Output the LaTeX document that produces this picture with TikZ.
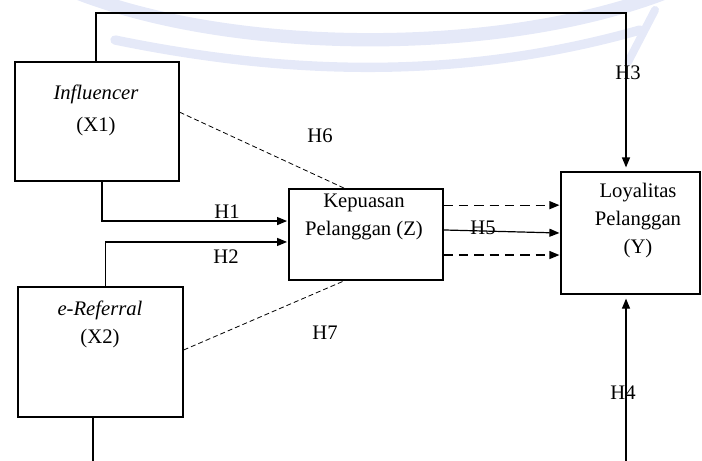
\documentclass[tikz,border=0pt]{standalone}
\usepackage{fontspec}
\setmainfont{Liberation Serif}
\usetikzlibrary{arrows.meta,positioning}

\tikzset{every picture/.style={line width=0.9pt}}
\tikzset{
  varbox/.style={draw, rectangle, inner sep=0pt},
  conn/.style={-{Triangle[length=7.5pt,width=6pt]}},
  dashconn/.style={conn, line width=0.9pt, dash pattern=on 7pt off 4.5pt},
  dashlink/.style={line width=0.6pt, dash pattern=on 3.75pt off 2.25pt},
  hlabel/.style={inner sep=0pt},
  wmark/.style={draw={rgb,255:red,229;green,233;blue,248}, line cap=round}
}

\begin{document}
\begin{tikzpicture}[x=0.75pt,y=0.75pt,yscale=-1,xscale=1,
  font=\fontsize{15.5}{21}\selectfont]
	\path[use as bounding box] (0,0) rectangle (702,460);

	%Watermark arcs behind the model
	\draw[wmark, line width=10pt] (80,-6) .. controls (240,55) and (500,55) .. (662,-6);
	\draw[wmark, line width=7pt] (115,40) .. controls (300,78) and (470,78) .. (640,30);
	\draw[wmark, line width=6pt] (655,10) -- (628,62);

	%Shape: Rectangle [Influencer]
	\node[varbox, minimum width=123pt, minimum height=89.25pt] (x1) at (97,121.5) {};
	% Text Node
	\node[align=center] (x1txt) at (96,110.5) {\textit{Influencer}\\[3.5pt](X1)};

	%Shape: Rectangle [e-Referral]
	\node[varbox, minimum width=123.75pt, minimum height=97.5pt] (x2) at (100.5,352) {};
	% Text Node
	\node[align=center] (x2txt) at (100,324) {\textit{e-Referral}\\(X2)};

	%Shape: Rectangle [Kepuasan]
	\node[varbox, minimum width=115.5pt, minimum height=68.25pt] (kp) at (366,234.5) {};
	% Text Node
	\node[align=center] (kptxt) at (364,217) {Kepuasan\\Pelanggan (Z)};

	%Shape: Rectangle [Loyalitas]
	\node[varbox, minimum width=104.25pt, minimum height=91.5pt] (ly) at (630.5,233) {};
	% Text Node
	\node[align=center] (lytxt) at (638,221) {Loyalitas\\Pelanggan\\(Y)};

	\coordinate (h3top) at (626,13);
	\coordinate (h4foot) at (626,462);
	\coordinate (x2foot) at (93,462);

	%Straight Lines [H3]
	\draw[conn] ([xshift=-0.75pt]x1.north) |- (h3top) -- ([yshift=-3pt]h3top |- ly.north);
	%Straight Lines [H4]
	\draw[conn] (h4foot) -- ([yshift=3pt]h4foot |- ly.south);
	%Straight Lines [e-Referral down]
	\draw (x2.south -| x2foot) -- (x2foot);

	%Straight Lines [H1]
	\draw[conn] ([xshift=3.75pt]x1.south) |- ([yshift=-10.1pt,xshift=-1pt]kp.west);
	%Straight Lines [H2]
	\draw[conn] ([xshift=4pt]x2.north) |- ([yshift=5.6pt,xshift=-1pt]kp.west);

	%Dashed Lines [H6, H7]
	\draw[dashlink] ([yshift=-7pt]x1.east) -- ([xshift=-16pt]kp.north);
	\draw[dashlink] ([yshift=-1.5pt]x2.east) -- ([xshift=-16pt]kp.south);

	%Lines into Loyalitas [H5]
	\draw[dashconn] ([yshift=-22pt]kp.east) -- ([yshift=-22pt,xshift=-0.75pt]kp.east -| ly.west);
	\draw[conn] ([yshift=-3.4pt]kp.east) -- ([xshift=-0.75pt]ly.west);
	\draw[dashconn] ([yshift=15.4pt]kp.east) -- ([yshift=15.4pt,xshift=-0.75pt]kp.east -| ly.west);

	% Text Node
	\node[hlabel] (h1) at (227,212) {H1};
	\node[hlabel] (h2) at (226,257) {H2};
	\node[hlabel] (h3) at (628,73) {H3};
	\node[hlabel] (h4) at (623,393) {H4};
	\node[hlabel] (h5) at (483,228) {H5};
	\node[hlabel] (h6) at (320,136) {H6};
	\node[hlabel] (h7) at (325,333) {H7};

\end{tikzpicture}
\end{document}
